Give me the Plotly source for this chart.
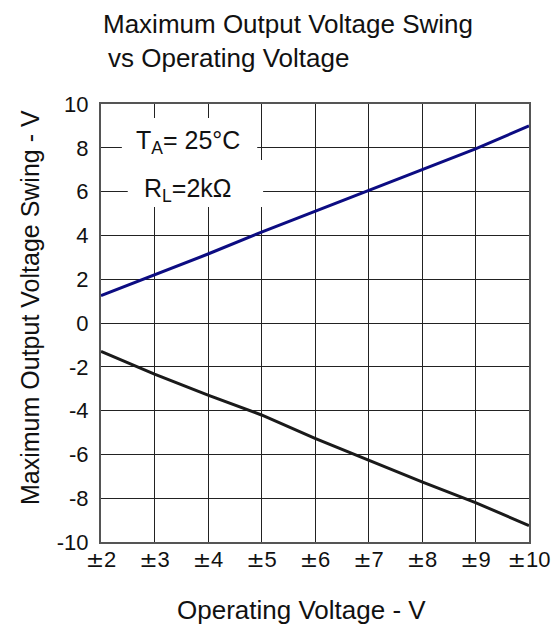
import plotly.graph_objects as go

supply = [2, 3, 4, 5, 6, 7, 8, 9, 10]
swing_pos = [1.25, 2.2, 3.15, 4.15, 5.1, 6.05, 7.0, 7.95, 9.0]
swing_neg = [-1.3, -2.33, -3.29, -4.2, -5.27, -6.26, -7.25, -8.2, -9.25]
x_ticks = [2, 3, 4, 5, 6, 7, 8, 9, 10]
x_labels = ["±2", "±3", "±4", "±5", "±6", "±7", "±8", "±9", "±10"]
y_ticks = [10, 8, 6, 4, 2, 0, -2, -4, -6, -8, -10]
y_labels = ["10", "8", "6", "4", "2", "0", "-2", "-4", "-6", "-8", "-10"]

FONT = "Liberation Sans, Arial, sans-serif"

# page body has an 8px margin, so the figure is laid out 8px smaller
W, H = 552, 619
ML, MR, MT, MB = 93, 31, 96, 85
PW, PH = W - ML - MR, H - MT - MB

def px(x):  # screen px -> paper x
    return (x - 8 - ML) / PW

def py(y):  # screen px -> paper y
    return (H - (y - 8) - MB) / PH

def pm(label):
    return label.replace("±", "<span style='font-family:DejaVu Sans'>±</span>")

fig = go.Figure()
fig.add_trace(go.Scatter(x=supply, y=swing_pos, mode="lines",
                         line=dict(color="#0c0c82", width=3), showlegend=False))
fig.add_trace(go.Scatter(x=supply, y=swing_neg, mode="lines",
                         line=dict(color="#1a1a1a", width=3), showlegend=False))

fig.update_layout(
    width=W, height=H,
    margin=dict(l=ML, r=MR, t=MT, b=MB, autoexpand=False),
    paper_bgcolor="white", plot_bgcolor="white",
    font=dict(family=FONT, size=22, color="#111"),
    xaxis=dict(range=[2, 10], tickvals=x_ticks, ticktext=[pm(t) for t in x_labels],
               showgrid=True, gridcolor="#222", gridwidth=1,
               showline=True, linecolor="#555", linewidth=2, mirror=True,
               zeroline=False, ticks="", tickfont=dict(size=22),
               ticklabelstandoff=-3),
    yaxis=dict(range=[-10, 10], tickvals=y_ticks, ticktext=y_labels,
               showgrid=True, gridcolor="#222", gridwidth=1,
               showline=True, linecolor="#555", linewidth=2, mirror=True,
               zeroline=False, ticks="", tickfont=dict(size=22),
               ticklabelstandoff=6),
)

fig.add_shape(type="rect", xref="x", yref="y", x0=2.39, x1=4.92, y0=7.44, y1=9.36,
              fillcolor="white", line=dict(width=0), layer="above")
fig.add_shape(type="rect", xref="x", yref="y", x0=2.50, x1=5.03, y0=5.30, y1=7.44,
              fillcolor="white", line=dict(width=0), layer="above")

def note(x, y, text, size, angle=0):
    fig.add_annotation(x=px(x), y=py(y), xref="paper", yref="paper", showarrow=False,
                       xanchor="center", yanchor="middle", textangle=angle,
                       text=text, font=dict(size=size))

note(188, 142, "T<sub>A</sub>= 25°C", 25)
note(188, 190, "R<sub>L</sub>=2kΩ", 25)
note(288, 24, "Maximum Output Voltage Swing", 26)
note(228, 58, "vs Operating Voltage", 26)
note(301, 610, "Operating Voltage - V", 26)
note(30, 308, "Maximum Output Voltage Swing - V", 25, -90)

fig.write_html("out.html")
